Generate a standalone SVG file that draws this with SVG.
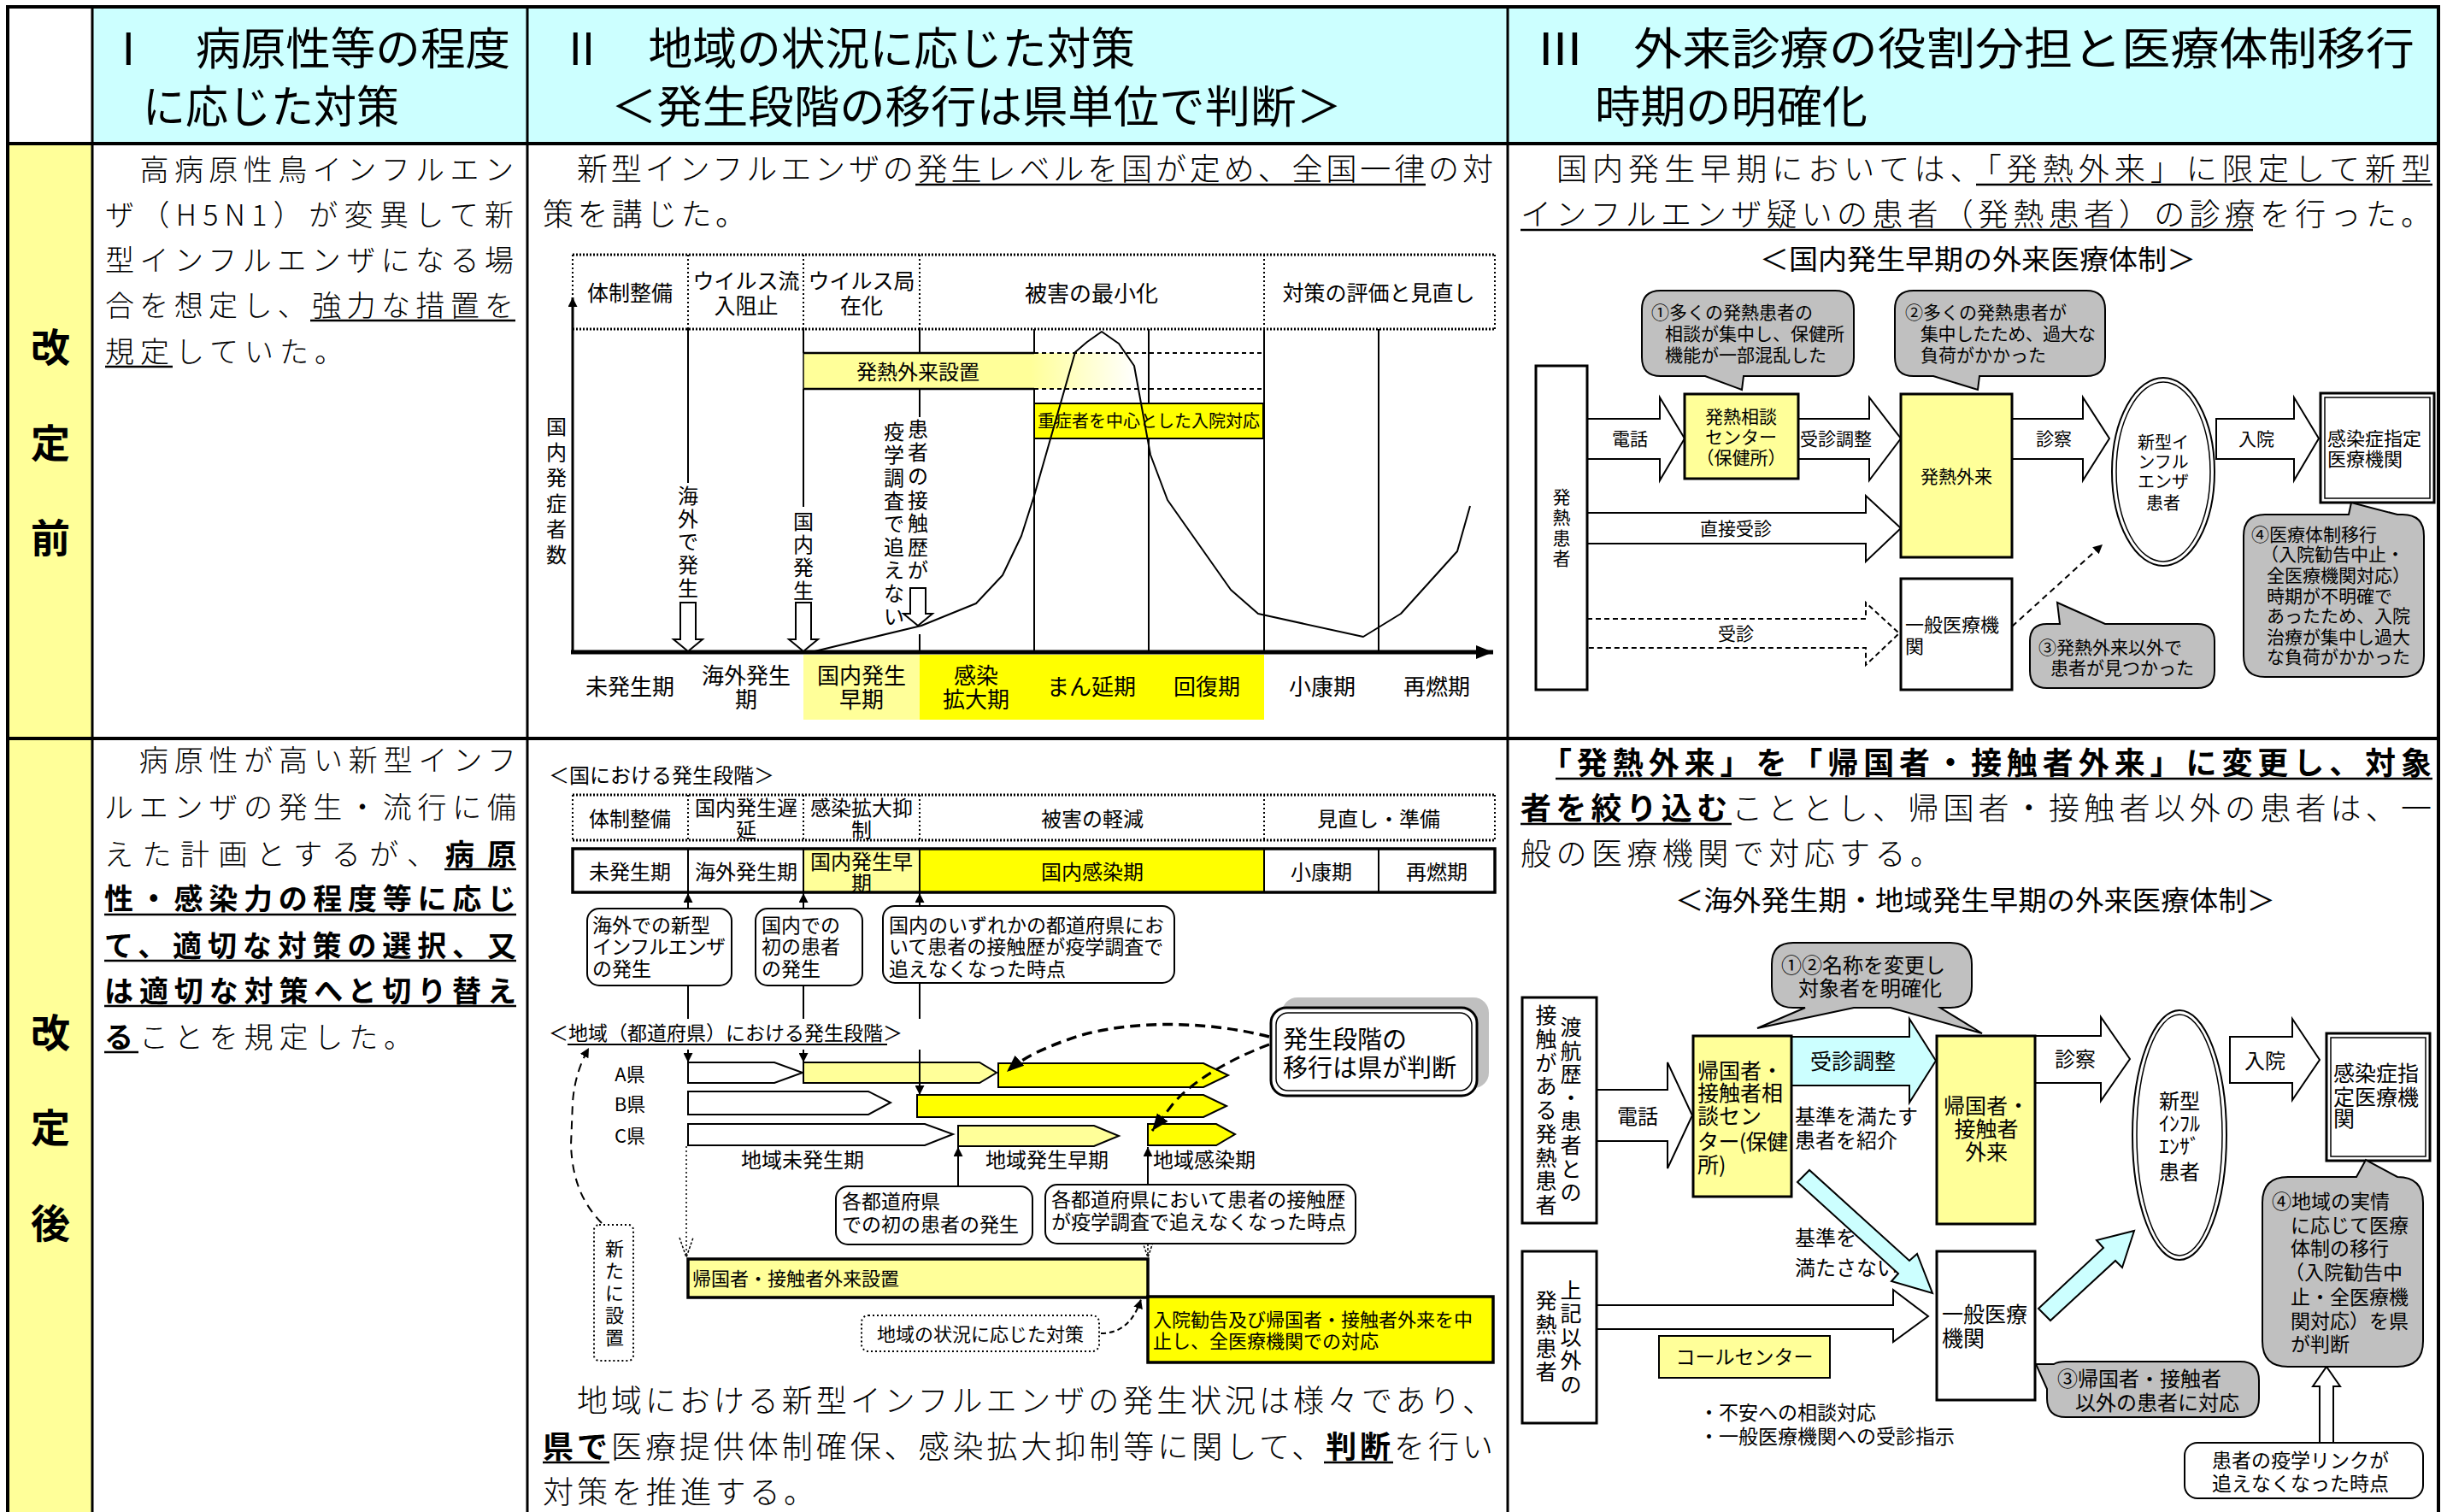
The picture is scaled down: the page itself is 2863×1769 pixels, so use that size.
<svg xmlns="http://www.w3.org/2000/svg" width="2863" height="1769" viewBox="0 0 2863 1769">
<defs>
<style>
text{font-family:"Noto Sans CJK JP","Noto Sans",sans-serif;dominant-baseline:central;fill:#000}
.c{text-anchor:middle}
.hd{font-size:52px}
.bt{font-size:36px;font-weight:300}
.bs{font-size:34px;font-weight:300}
.b{font-weight:700}
.k{font-size:46px;font-weight:700}
.f20{font-size:20px}.f21{font-size:21px}.f22{font-size:22px}.f23{font-size:23px}.f24{font-size:24px}.f25{font-size:25px}.f26{font-size:26px}.f29{font-size:29px}.f32{font-size:32px}
.ln{stroke:#000;fill:none;stroke-width:2}
.ar{stroke:#000;stroke-width:2;fill:#fff}
.bx{stroke:#000;stroke-width:3;fill:#fff}
.rb{stroke:#000;stroke-width:2;fill:#fff}
.ly{fill:#FFFF99}
.yy{fill:#FFFF00}
.cy{fill:#CCFFFF}
.bub{fill:#C0C0C0;stroke:#000;stroke-width:2}
.dot{stroke:#000;fill:none;stroke-width:2;stroke-dasharray:2 3}
.dsh{stroke:#000;fill:none;stroke-width:2;stroke-dasharray:8 6}
.ul{stroke:#000;stroke-width:2.5}
</style>
<linearGradient id="gr" x1="940" y1="0" x2="1330" y2="0" gradientUnits="userSpaceOnUse">
<stop offset="0.68" stop-color="#FFFF99"/><stop offset="1" stop-color="#FFFFFF"/>
</linearGradient>
<marker id="ah" viewBox="0 0 10 10" refX="10" refY="5" markerWidth="11" markerHeight="11" markerUnits="userSpaceOnUse" orient="auto"><path d="M0,0 L10,5 L0,10 Z" fill="#000"/></marker>
<marker id="ahb" viewBox="0 0 10 10" refX="10" refY="5" markerWidth="20" markerHeight="20" markerUnits="userSpaceOnUse" orient="auto"><path d="M0,1 L10,5 L0,9 Z" fill="#000"/></marker>
</defs>
<rect width="2863" height="1769" fill="#fff"/>

<!-- table -->
<g id="table">
<rect x="108" y="8" width="2745" height="160" fill="#CCFFFF"/>
<rect x="9" y="168" width="99" height="1601" fill="#FFFF99"/>
<g stroke="#000">
<line x1="7" y1="8" x2="2855" y2="8" stroke-width="4"/>
<line x1="7" y1="168" x2="2855" y2="168" stroke-width="4"/>
<line x1="7" y1="864" x2="2855" y2="864" stroke-width="4"/>
<line x1="9" y1="6" x2="9" y2="1769" stroke-width="4"/>
<line x1="108" y1="8" x2="108" y2="1769" stroke-width="3"/>
<line x1="617" y1="8" x2="617" y2="1769" stroke-width="3"/>
<line x1="1764" y1="8" x2="1764" y2="1769" stroke-width="3"/>
<line x1="2853" y1="6" x2="2853" y2="1769" stroke-width="4"/>
</g>
</g>

<g id="headers">
<text class="hd" x="124" y="53" textLength="473" lengthAdjust="spacingAndGlyphs">Ⅰ　病原性等の程度</text>
<text class="hd" x="167" y="121" textLength="300" lengthAdjust="spacingAndGlyphs">に応じた対策</text>
<text class="hd" x="655" y="53" textLength="673" lengthAdjust="spacingAndGlyphs">Ⅱ　地域の状況に応じた対策</text>
<text class="hd" x="715" y="121" textLength="855" lengthAdjust="spacingAndGlyphs">＜発生段階の移行は県単位で判断＞</text>
<text class="hd" x="1797" y="53" textLength="1028" lengthAdjust="spacingAndGlyphs">Ⅲ　外来診療の役割分担と医療体制移行</text>
<text class="hd" x="1866" y="121" textLength="319" lengthAdjust="spacingAndGlyphs">時期の明確化</text>
</g>

<g id="rowlabels">
<text class="k c"><tspan x="59" y="403">改</tspan><tspan x="59" y="515">定</tspan><tspan x="59" y="626">前</tspan></text>
<text class="k c"><tspan x="59" y="1205">改</tspan><tspan x="59" y="1316">定</tspan><tspan x="59" y="1428">後</tspan></text>
</g>

<!-- Column I text -->
<g id="col1-before">
<text class="bs" x="123" y="196" textLength="478">　高病原性鳥インフルエン</text>
<text class="bs" x="123" y="249" textLength="478">ザ（H5N1）が変異して新</text>
<text class="bs" x="123" y="302" textLength="478">型インフルエンザになる場</text>
<text class="bs" x="123" y="355" textLength="478">合を想定し、強力な措置を</text>
<text class="bs" x="123" y="409" textLength="279">規定していた。</text>
<line class="ul" x1="363" y1="375" x2="603" y2="375"/>
<line class="ul" x1="123" y1="429" x2="202" y2="429"/>
</g>
<g id="col1-after">
<text class="bs" x="122" y="887" textLength="482">　病原性が高い新型インフ</text>
<text class="bs" x="122" y="942" textLength="482">ルエンザの発生・流行に備</text>
<text class="bs" x="122" y="997" textLength="388">えた計画とするが、</text>
<text class="bs b" x="521" y="997" textLength="83">病原</text>
<text class="bs b" x="122" y="1049" textLength="482">性・感染力の程度等に応じ</text>
<text class="bs b" x="122" y="1104" textLength="482">て、適切な対策の選択、又</text>
<text class="bs b" x="122" y="1157" textLength="482">は適切な対策へと切り替え</text>
<text class="bs" x="122" y="1211" textLength="361"><tspan class="b">る</tspan>ことを規定した。</text>
<line class="ul" x1="520" y1="1017" x2="604" y2="1017"/>
<line class="ul" x1="122" y1="1070" x2="604" y2="1070"/>
<line class="ul" x1="122" y1="1124" x2="604" y2="1124"/>
<line class="ul" x1="122" y1="1177" x2="604" y2="1177"/>
<line class="ul" x1="122" y1="1231" x2="162" y2="1231"/>
</g>

<!-- Column II before -->
<g id="col2-before-text">
<text class="bt" x="635" y="195" textLength="1112">　新型インフルエンザの発生レベルを国が定め、全国一律の対</text>
<text class="bt" x="635" y="248" textLength="238">策を講じた。</text>
<line class="ul" x1="1071" y1="216" x2="1668" y2="216"/>
</g>

<g id="chart-header">
<line x1="670" y1="298" x2="1749" y2="298" stroke="#000" stroke-width="3" stroke-dasharray="2 2"/>
<line x1="670" y1="385" x2="1749" y2="385" stroke="#000" stroke-width="3" stroke-dasharray="2 2"/>
<g class="dot">
<line x1="670" y1="298" x2="670" y2="385"/><line x1="805" y1="298" x2="805" y2="385"/><line x1="940" y1="298" x2="940" y2="385"/><line x1="1076" y1="298" x2="1076" y2="385"/><line x1="1479" y1="298" x2="1479" y2="385"/><line x1="1749" y1="298" x2="1749" y2="385"/>
</g>
<text class="f25 c" x="737" y="341">体制整備</text>
<text class="f25 c" x="873" y="327">ウイルス流</text>
<text class="f25 c" x="873" y="356">入阻止</text>
<text class="f25 c" x="1008" y="327">ウイルス局</text>
<text class="f25 c" x="1008" y="356">在化</text>
<text class="f26 c" x="1277" y="341">被害の最小化</text>
<text class="f25 c" x="1613" y="341">対策の評価と見直し</text>
</g>

<g id="chart-grid" class="ln" stroke-width="1.5">
<line x1="805" y1="385" x2="805" y2="565"/>
<line x1="940" y1="385" x2="940" y2="413"/><line x1="940" y1="455" x2="940" y2="593"/>
<line x1="1076" y1="385" x2="1076" y2="413"/><line x1="1076" y1="455" x2="1076" y2="488"/><line x1="1076" y1="742" x2="1076" y2="763"/>
<line x1="1210" y1="385" x2="1210" y2="763"/>
<line x1="1344" y1="385" x2="1344" y2="763"/>
<line x1="1479" y1="385" x2="1479" y2="763"/>
<line x1="1613" y1="385" x2="1613" y2="763"/>
</g>

<g id="bg-phase">
<rect x="940" y="766" width="136" height="76" fill="#FFFF99"/>
<rect x="1076" y="766" width="403" height="76" fill="#FFFF00"/>
</g>

<g id="fever-clinic-bar">
<rect x="940" y="413" width="390" height="42" fill="url(#gr)"/>
<line x1="940" y1="413" x2="1210" y2="413" stroke="#000" stroke-width="2.5"/>
<line x1="940" y1="455" x2="1210" y2="455" stroke="#000" stroke-width="2.5"/>
<line x1="940" y1="413" x2="940" y2="455" stroke="#000" stroke-width="1.5"/>
<line x1="1210" y1="413" x2="1479" y2="413" stroke="#000" stroke-width="2" stroke-dasharray="5 4"/>
<line x1="1210" y1="455" x2="1479" y2="455" stroke="#000" stroke-width="2" stroke-dasharray="5 4"/>
<text class="f24 c" x="1074" y="433">発熱外来設置</text>
</g>
<g id="severe-bar">
<rect x="1210" y="472" width="268" height="41" fill="#FFFF00" stroke="#000" stroke-width="2"/>
<text class="f20 c" x="1344" y="491">重症者を中心とした入院対応</text>
</g>

<g id="chart-axes">
<line x1="670" y1="764" x2="670" y2="348" stroke="#000" stroke-width="3" marker-end="url(#ah)"/>
<line x1="668" y1="763" x2="1747" y2="763" stroke="#000" stroke-width="5" marker-end="url(#ahb)"/>
<text class="f24 c"><tspan x="651" y="497">国</tspan><tspan x="651" y="527">内</tspan><tspan x="651" y="557">発</tspan><tspan x="651" y="587">症</tspan><tspan x="651" y="617">者</tspan><tspan x="651" y="647">数</tspan></text>
</g>

<g id="chart-curve">
<polyline fill="none" stroke="#000" stroke-width="2" stroke-linejoin="round" points="953,762 1078,732 1142,706 1173,673 1195,627 1210,580 1258,412 1272,400 1289,388 1309,402 1327,428 1346,532 1366,585 1440,690 1472,718 1595,745 1639,718 1705,645 1720,592"/>
</g>

<g id="chart-events">
<text class="f24 c"><tspan x="805" y="578">海</tspan><tspan x="805" y="605">外</tspan><tspan x="805" y="632">で</tspan><tspan x="805" y="659">発</tspan><tspan x="805" y="686">生</tspan></text>
<text class="f24 c"><tspan x="940" y="608">国</tspan><tspan x="940" y="635">内</tspan><tspan x="940" y="662">発</tspan><tspan x="940" y="689">生</tspan></text>
<text class="f24 c"><tspan x="1074" y="500">患</tspan><tspan x="1074" y="527">者</tspan><tspan x="1074" y="555">の</tspan><tspan x="1074" y="583">接</tspan><tspan x="1074" y="610">触</tspan><tspan x="1074" y="638">歴</tspan><tspan x="1074" y="665">が</tspan></text>
<text class="f24 c"><tspan x="1046" y="503">疫</tspan><tspan x="1046" y="530">学</tspan><tspan x="1046" y="557">調</tspan><tspan x="1046" y="584">査</tspan><tspan x="1046" y="611">で</tspan><tspan x="1046" y="638">追</tspan><tspan x="1046" y="665">え</tspan><tspan x="1046" y="692">な</tspan><tspan x="1046" y="719">い</tspan></text>
<polygon class="ar" points="796,705 814,705 814,748 822,748 805,762 788,748 796,748"/>
<polygon class="ar" points="931,705 949,705 949,748 957,748 940,762 923,748 931,748"/>
<polygon class="ar" points="1065,688 1083,688 1083,718 1091,718 1074,732 1057,718 1065,718"/>
</g>

<g id="chart-phases">
<text class="f26 c" x="737" y="801">未発生期</text>
<text class="f26 c" x="873" y="788">海外発生</text><text class="f26 c" x="873" y="816">期</text>
<text class="f26 c" x="1008" y="788">国内発生</text><text class="f26 c" x="1008" y="816">早期</text>
<text class="f26 c" x="1142" y="788">感染</text><text class="f26 c" x="1142" y="816">拡大期</text>
<text class="f26 c" x="1277" y="801">まん延期</text>
<text class="f26 c" x="1412" y="801">回復期</text>
<text class="f26 c" x="1547" y="801">小康期</text>
<text class="f26 c" x="1681" y="801">再燃期</text>
</g>

<!-- Column III before -->
<g id="col3-before-text">
<text class="bt" x="1779" y="195" textLength="1066">　国内発生早期においては、「発熱外来」に限定して新型</text>
<text class="bt" x="1779" y="248" textLength="1066">インフルエンザ疑いの患者（発熱患者）の診療を行った。</text>
<line class="ul" x1="2312" y1="216" x2="2846" y2="216"/>
<line class="ul" x1="1779" y1="269" x2="2636" y2="269"/>
<text class="f32" x="2059" y="301" textLength="510" lengthAdjust="spacingAndGlyphs">＜国内発生早期の外来医療体制＞</text>
</g>

<g id="connectors-before">
<polygon class="ar" points="1857,490 1942,490 1942,465 1971,513 1942,562 1942,537 1857,537"/>
<polygon class="ar" points="2104,490 2187,490 2187,465 2224,513 2187,562 2187,537 2104,537"/>
<polygon class="ar" points="2354,490 2437,490 2437,465 2468,513 2437,562 2437,537 2354,537"/>
<polygon class="ar" points="2593,490 2684,490 2684,465 2713,513 2684,562 2684,537 2593,537"/>
<polygon class="ar" points="1857,600 2183,600 2183,580 2224,618 2183,657 2183,636 1857,636"/>
<polygon class="ar" stroke-dasharray="6 4" points="1857,724 2183,724 2183,705 2222,741 2183,778 2183,758 1857,758"/>
<line x1="2354" y1="733" x2="2460" y2="637" stroke="#000" stroke-width="2" stroke-dasharray="7 5" marker-end="url(#ah)"/>
<text class="f21 c" x="1907" y="512">電話</text>
<text class="f21 c" x="2148" y="512">受診調整</text>
<text class="f21 c" x="2403" y="512">診察</text>
<text class="f21 c" x="2640" y="512">入院</text>
<text class="f21 c" x="2031" y="617">直接受診</text>
<text class="f21 c" x="2031" y="740">受診</text>
</g>

<g id="n-fever-patient">
<rect class="bx" x="1797" y="428" width="60" height="379"/>
<text class="f21 c"><tspan x="1827" y="580">発</tspan><tspan x="1827" y="604">熱</tspan><tspan x="1827" y="628">患</tspan><tspan x="1827" y="652">者</tspan></text>
</g>
<g id="n-fever-consult">
<rect class="bx ly" x="1971" y="461" width="133" height="99"/>
<text class="f21 c" x="2037" y="486">発熱相談</text>
<text class="f21 c" x="2037" y="510">センター</text>
<text class="f21 c" x="2037" y="534">（保健所）</text>
</g>
<g id="n-fever-clinic">
<rect class="bx ly" x="2224" y="461" width="130" height="191"/>
<text class="f21 c" x="2289" y="556">発熱外来</text>
</g>
<g id="n-general1">
<rect class="bx" x="2224" y="677" width="130" height="130"/>
<text class="f22" x="2229" y="729">一般医療機</text>
<text class="f22" x="2229" y="754">関</text>
</g>
<g id="n-patient1">
<ellipse cx="2531" cy="552" rx="60" ry="110" fill="#fff" stroke="#000" stroke-width="2"/>
<ellipse cx="2531" cy="552" rx="55" ry="105" fill="none" stroke="#000" stroke-width="1.5"/>
<text class="f20 c" x="2531" y="516">新型イ</text>
<text class="f20 c" x="2531" y="539">ンフル</text>
<text class="f20 c" x="2531" y="562">エンザ</text>
<text class="f20 c" x="2531" y="587">患者</text>
</g>
<g id="n-designated1">
<rect x="2715" y="460" width="133" height="128" fill="#fff" stroke="#000" stroke-width="3"/>
<rect x="2720" y="465" width="123" height="118" fill="none" stroke="#000" stroke-width="1.5"/>
<text class="f22" x="2723" y="511">感染症指定</text>
<text class="f22" x="2723" y="535">医療機関</text>
</g>
<g id="n-bubble1">
<path class="bub" d="M1943,340 H2147 Q2169,340 2169,362 V418 Q2169,440 2147,440 H2040 L2038,456 L1995,440 H1943 Q1921,440 1921,418 V362 Q1921,340 1943,340 Z"/>
<text class="f21" x="1932" y="364">①多くの発熱患者の</text>
<text class="f21" x="1948" y="389">相談が集中し、保健所</text>
<text class="f21" x="1948" y="414">機能が一部混乱した</text>
</g>
<g id="n-bubble2">
<path class="bub" d="M2239,340 H2441 Q2463,340 2463,362 V418 Q2463,440 2441,440 H2316 L2314,456 L2262,440 H2239 Q2217,440 2217,418 V362 Q2217,340 2239,340 Z"/>
<text class="f21" x="2229" y="364">②多くの発熱患者が</text>
<text class="f21" x="2247" y="389" textLength="205">集中したため、過大な</text>
<text class="f21" x="2247" y="414">負荷がかかった</text>
</g>
<g id="n-bubble3">
<path class="bub" d="M2395,730 H2410 L2407,705 L2463,730 H2571 Q2591,730 2591,750 V785 Q2591,805 2571,805 H2395 Q2375,805 2375,785 V750 Q2375,730 2395,730 Z"/>
<text class="f21" x="2385" y="756">③発熱外来以外で</text>
<text class="f21" x="2399" y="780">患者が見つかった</text>
</g>
<g id="n-bubble4">
<path class="bub" d="M2650,602 H2748 L2751,588 L2805,602 H2811 Q2836,602 2836,627 V767 Q2836,792 2811,792 H2650 Q2625,792 2625,767 V627 Q2625,602 2650,602 Z"/>
<text class="f21" x="2634" y="624">④医療体制移行</text>
<text class="f21" x="2645" y="647">（入院勧告中止・</text>
<text class="f21" x="2652" y="672">全医療機関対応）</text>
<text class="f21" x="2652" y="696">時期が不明確で</text>
<text class="f21" x="2652" y="719">あったため、入院</text>
<text class="f21" x="2652" y="744">治療が集中し過大</text>
<text class="f21" x="2652" y="767">な負荷がかかった</text>
</g>

<!-- Column II after -->
<g id="col2-after-stages">
<text class="f24" x="642" y="905">＜国における発生段階＞</text>
<line x1="670" y1="930" x2="1749" y2="930" stroke="#000" stroke-width="3" stroke-dasharray="2 2"/>
<line x1="670" y1="983" x2="1749" y2="983" stroke="#000" stroke-width="3" stroke-dasharray="2 2"/>
<g class="dot">
<line x1="670" y1="930" x2="670" y2="983"/><line x1="805" y1="930" x2="805" y2="983"/><line x1="940" y1="930" x2="940" y2="983"/><line x1="1076" y1="930" x2="1076" y2="983"/><line x1="1479" y1="930" x2="1479" y2="983"/><line x1="1749" y1="930" x2="1749" y2="983"/>
</g>
<text class="f24 c" x="737" y="956">体制整備</text>
<text class="f24 c" x="873" y="943">国内発生遅</text><text class="f24 c" x="873" y="969">延</text>
<text class="f24 c" x="1008" y="943">感染拡大抑</text><text class="f24 c" x="1008" y="969">制</text>
<text class="f24 c" x="1278" y="956">被害の軽減</text>
<text class="f24 c" x="1613" y="956">見直し・準備</text>
<rect x="940" y="993" width="136" height="51" fill="#FFFF99"/>
<rect x="1076" y="993" width="403" height="51" fill="#FFFF00"/>
<rect x="670" y="993" width="1079" height="51" fill="none" stroke="#000" stroke-width="3.5"/>
<g class="ln"><line x1="805" y1="993" x2="805" y2="1044"/><line x1="940" y1="993" x2="940" y2="1044"/><line x1="1076" y1="993" x2="1076" y2="1044"/><line x1="1479" y1="993" x2="1479" y2="1044"/><line x1="1613" y1="993" x2="1613" y2="1044"/></g>
<text class="f24 c" x="737" y="1018">未発生期</text>
<text class="f24 c" x="873" y="1018">海外発生期</text>
<text class="f24 c" x="1008" y="1006">国内発生早</text><text class="f24 c" x="1008" y="1031">期</text>
<text class="f24 c" x="1278" y="1018">国内感染期</text>
<text class="f24 c" x="1546" y="1018">小康期</text>
<text class="f24 c" x="1681" y="1018">再燃期</text>
</g>

<g id="connectors-after-mid">
<line class="ln" stroke-width="1.5" x1="805" y1="1063" x2="805" y2="1045" marker-end="url(#ah)"/>
<line class="ln" stroke-width="1.5" x1="940" y1="1063" x2="940" y2="1045" marker-end="url(#ah)"/>
<line class="ln" stroke-width="1.5" x1="1076" y1="1060" x2="1076" y2="1045" marker-end="url(#ah)"/>
<line class="ln" stroke-width="1.5" x1="805" y1="1153" x2="805" y2="1192"/>
<line class="ln" stroke-width="1.5" x1="940" y1="1153" x2="940" y2="1192"/>
<line class="ln" stroke-width="1.5" x1="1076" y1="1150" x2="1076" y2="1192"/>
</g>

<g id="n-ev-overseas"><rect class="rb" x="687" y="1063" width="169" height="90" rx="14"/>
<text class="f23" x="693" y="1081">海外での新型</text><text class="f23" x="693" y="1106" textLength="156">インフルエンザ</text><text class="f23" x="693" y="1132">の発生</text></g>
<g id="n-ev-domestic"><rect class="rb" x="884" y="1063" width="125" height="90" rx="14"/>
<text class="f23" x="891" y="1081">国内での</text><text class="f23" x="891" y="1106">初の患者</text><text class="f23" x="891" y="1132">の発生</text></g>
<g id="n-ev-untraceable"><rect class="rb" x="1033" y="1060" width="341" height="90" rx="14"/>
<text class="f23" x="1040" y="1081">国内のいずれかの都道府県にお</text><text class="f23" x="1040" y="1106">いて患者の接触歴が疫学調査で</text><text class="f23" x="1040" y="1132">追えなくなった時点</text></g>

<g id="region-label">
<text class="f23" x="642" y="1207">＜地域（都道府県）における発生段階＞</text>
<line x1="664" y1="1222" x2="1038" y2="1222" stroke="#000" stroke-width="2"/>
</g>

<g id="region-bars">
<text class="f22 c" x="737" y="1255">A県</text>
<text class="f22 c" x="737" y="1290">B県</text>
<text class="f22 c" x="737" y="1327">C県</text>
<polygon class="ar" points="805,1243 906,1243 939,1255 906,1267 805,1267"/>
<polygon class="ar ly" points="940,1243 1146,1243 1166,1255 1146,1267 940,1267"/>
<polygon class="ar yy" points="1168,1244 1408,1244 1437,1258 1408,1272 1168,1272"/>
<polygon class="ar" points="805,1277 1016,1277 1042,1290 1016,1304 805,1304"/>
<polygon class="ar yy" points="1073,1281 1408,1281 1435,1294 1408,1307 1073,1307"/>
<polygon class="ar" points="805,1315 1082,1315 1115,1327 1082,1340 805,1340"/>
<polygon class="ar ly" points="1121,1317 1280,1317 1309,1329 1280,1341 1121,1341"/>
<polygon class="ar yy" points="1343,1315 1423,1315 1445,1327 1423,1340 1343,1340"/>
<text class="f24 c" x="939" y="1355">地域未発生期</text>
<text class="f24 c" x="1225" y="1355">地域発生早期</text>
<text class="f24" x="1349" y="1355">地域感染期</text>
</g>

<g id="connectors-after-region">
<line class="ln" stroke-width="1.5" x1="805" y1="1228" x2="805" y2="1243" marker-end="url(#ah)"/>
<line class="ln" stroke-width="1.5" x1="940" y1="1228" x2="940" y2="1243" marker-end="url(#ah)"/>
<line class="ln" stroke-width="1.5" x1="1076" y1="1228" x2="1076" y2="1281" marker-end="url(#ah)"/>
<line class="ln" stroke-width="1.5" x1="1121" y1="1388" x2="1121" y2="1342" marker-end="url(#ah)"/>
<line class="ln" stroke-width="1.5" x1="1343" y1="1386" x2="1343" y2="1342" marker-end="url(#ah)"/>
<line x1="803" y1="1341" x2="803" y2="1470" stroke="#000" stroke-width="1.5" stroke-dasharray="2 3"/>
<polyline points="795,1448 803,1471 811,1448" fill="none" stroke="#000" stroke-width="1.5" stroke-dasharray="3 2"/>
<line x1="1343" y1="1455" x2="1343" y2="1470" stroke="#000" stroke-width="1.5" stroke-dasharray="3 2"/>
<polyline points="1335,1448 1343,1471 1351,1448" fill="none" stroke="#000" stroke-width="1.5" stroke-dasharray="3 2"/>
<path d="M704,1431 C684,1410 670,1385 668,1340 L670,1290 C672,1262 680,1242 689,1226" fill="none" stroke="#000" stroke-width="2" stroke-dasharray="10 7" marker-end="url(#ah)"/>
<path d="M1485,1213 C1420,1196 1330,1192 1262,1212 C1220,1226 1196,1238 1178,1254" fill="none" stroke="#000" stroke-width="3.5" stroke-dasharray="12 7" marker-end="url(#ahb)"/>
<path d="M1485,1222 C1432,1242 1392,1268 1372,1292 L1348,1323" fill="none" stroke="#000" stroke-width="3" stroke-dasharray="12 7" marker-end="url(#ahb)"/>
<path d="M1288,1560 C1310,1560 1326,1548 1335,1520" fill="none" stroke="#000" stroke-width="2" stroke-dasharray="6 4" marker-end="url(#ah)"/>
</g>

<g id="n-judge">
<rect x="1500" y="1167" width="242" height="106" rx="18" fill="#C0C0C0"/>
<rect x="1487" y="1179" width="241" height="103" rx="18" fill="#fff" stroke="#000" stroke-width="3"/>
<rect x="1493" y="1185" width="229" height="91" rx="14" fill="none" stroke="#000" stroke-width="1.5"/>
<text class="f29" x="1501" y="1214">発生段階の</text>
<text class="f29" x="1501" y="1247">移行は県が判断</text>
</g>

<g id="n-ev-pref-first"><rect class="rb" x="978" y="1388" width="230" height="68" rx="14"/>
<text class="f23" x="985" y="1404">各都道府県</text><text class="f23" x="985" y="1431">での初の患者の発生</text></g>
<g id="n-ev-pref-untraceable"><rect class="rb" x="1223" y="1386" width="363" height="69" rx="14"/>
<text class="f23" x="1230" y="1402">各都道府県において患者の接触歴</text><text class="f23" x="1230" y="1428">が疫学調査で追えなくなった時点</text></g>

<g id="n-new">
<rect x="695" y="1433" width="46" height="159" rx="6" fill="#fff" stroke="#000" stroke-width="2" stroke-dasharray="2 3"/>
<text class="f22 c"><tspan x="719" y="1459">新</tspan><tspan x="719" y="1485">た</tspan><tspan x="719" y="1511">に</tspan><tspan x="719" y="1537">設</tspan><tspan x="719" y="1563">置</tspan></text>
</g>
<g id="n-returnee-setup">
<rect x="805" y="1473" width="538" height="45" fill="#FFFF99" stroke="#000" stroke-width="3.5"/>
<text class="f22" x="810" y="1494">帰国者・接触者外来設置</text>
</g>
<g id="n-stop">
<rect x="1343" y="1517" width="404" height="77" fill="#FFFF00" stroke="#000" stroke-width="3.5"/>
<text class="f22" x="1349" y="1542">入院勧告及び帰国者・接触者外来を中</text>
<text class="f22" x="1349" y="1567">止し、全医療機関での対応</text>
</g>
<g id="n-local">
<rect x="1008" y="1539" width="278" height="42" rx="8" fill="#fff" stroke="#000" stroke-width="2" stroke-dasharray="2 3"/>
<text class="f22 c" x="1147" y="1559">地域の状況に応じた対策</text>
</g>

<g id="col2-after-text">
<text class="bt" x="635" y="1636" textLength="1112">　地域における新型インフルエンザの発生状況は様々であり、</text>
<text class="bt" x="635" y="1690" textLength="1112"><tspan class="b">県で</tspan>医療提供体制確保、感染拡大抑制等に関して、<tspan class="b">判断</tspan>を行い</text>
<text class="bt" x="635" y="1743" textLength="318">対策を推進する。</text>
<line class="ul" x1="635" y1="1711" x2="713" y2="1711"/>
<line class="ul" x1="1549" y1="1711" x2="1630" y2="1711"/>
</g>

<!-- Column III after -->
<g id="col3-after-text">
<text class="bt" x="1779" y="890" textLength="1066">　<tspan class="b">「発熱外来」を「帰国者・接触者外来」に変更し、対象</tspan></text>
<text class="bt" x="1779" y="943" textLength="1066"><tspan class="b">者を絞り込む</tspan>こととし、帰国者・接触者以外の患者は、一</text>
<text class="bt" x="1779" y="996" textLength="492">般の医療機関で対応する。</text>
<line class="ul" x1="1820" y1="911" x2="2846" y2="911"/>
<line class="ul" x1="1779" y1="964" x2="2026" y2="964"/>
<text class="f32" x="1960" y="1051" textLength="702" lengthAdjust="spacingAndGlyphs">＜海外発生期・地域発生早期の外来医療体制＞</text>
</g>

<g id="connectors-after">
<polygon class="ar" points="1868,1275 1951,1275 1951,1243 1980,1305 1951,1367 1951,1335 1868,1335"/>
<polygon class="ar cy" points="2096,1213 2234,1213 2234,1192 2265,1241 2234,1290 2234,1270 2096,1270"/>
<polygon class="ar" points="2381,1212 2458,1212 2458,1190 2492,1239 2458,1288 2458,1267 2381,1267"/>
<polygon class="ar" points="2609,1213 2682,1213 2682,1192 2714,1240 2682,1287 2682,1267 2609,1267"/>
<polygon class="ar" points="1868,1527 2215,1527 2215,1509 2256,1540 2215,1570 2215,1555 1868,1555"/>
<text class="f24 c" x="1916" y="1304">電話</text>
<text class="f25 c" x="2168" y="1240">受診調整</text>
<text class="f24 c" x="2428" y="1237">診察</text>
<text class="f24 c" x="2650" y="1239">入院</text>
<text class="f24" x="2100" y="1304">基準を満たす</text>
<text class="f24" x="2100" y="1332">患者を紹介</text>
<text class="f24" x="2100" y="1446">基準を</text>
<text class="f24" x="2100" y="1481">満たさない</text>
<polygon class="ar cy" points="2103,1383 2221,1490 2213,1499 2261,1513 2243,1467 2234,1475 2117,1369"/>
<polygon class="ar cy" points="2385,1531 2461,1460 2453,1451 2497,1440 2483,1483 2475,1475 2399,1545"/>
<polygon class="ar" points="2714,1688 2714,1622 2706,1622 2722,1599 2738,1622 2730,1622 2730,1688"/>
</g>

<g id="n-traveler">
<rect class="bx" x="1781" y="1167" width="87" height="264"/>
<text class="f25 c"><tspan x="1838" y="1200">渡</tspan><tspan x="1838" y="1228">航</tspan><tspan x="1838" y="1255">歴</tspan><tspan x="1838" y="1283">・</tspan><tspan x="1838" y="1310">患</tspan><tspan x="1838" y="1338">者</tspan><tspan x="1838" y="1366">と</tspan><tspan x="1838" y="1393">の</tspan></text>
<text class="f25 c"><tspan x="1809" y="1186">接</tspan><tspan x="1809" y="1214">触</tspan><tspan x="1809" y="1242">が</tspan><tspan x="1809" y="1269">あ</tspan><tspan x="1809" y="1297">る</tspan><tspan x="1809" y="1325">発</tspan><tspan x="1809" y="1353">熱</tspan><tspan x="1809" y="1380">患</tspan><tspan x="1809" y="1408">者</tspan></text>
</g>
<g id="n-others">
<rect class="bx" x="1781" y="1464" width="87" height="201"/>
<text class="f25 c"><tspan x="1838" y="1508">上</tspan><tspan x="1838" y="1535">記</tspan><tspan x="1838" y="1563">以</tspan><tspan x="1838" y="1590">外</tspan><tspan x="1838" y="1618">の</tspan></text>
<text class="f25 c"><tspan x="1809" y="1520">発</tspan><tspan x="1809" y="1548">熱</tspan><tspan x="1809" y="1576">患</tspan><tspan x="1809" y="1603">者</tspan></text>
</g>
<g id="n-consult2">
<rect class="bx ly" x="1981" y="1212" width="115" height="188"/>
<text class="f25" x="1986" y="1251">帰国者・</text>
<text class="f25" x="1986" y="1277">接触者相</text>
<text class="f25" x="1986" y="1304">談セン</text>
<text class="f25" x="1986" y="1334" textLength="106">ター(保健</text>
<text class="f25" x="1986" y="1361">所)</text>
</g>
<g id="n-returnee-clinic">
<rect class="bx ly" x="2266" y="1212" width="115" height="220"/>
<text class="f25 c" x="2324" y="1292">帰国者・</text>
<text class="f25 c" x="2324" y="1319">接触者</text>
<text class="f25 c" x="2324" y="1346">外来</text>
</g>
<g id="n-general2">
<rect class="bx" x="2266" y="1464" width="115" height="174"/>
<text class="f25" x="2272" y="1536">一般医療</text>
<text class="f25" x="2272" y="1564">機関</text>
</g>
<g id="n-patient2">
<ellipse cx="2550" cy="1328" rx="55" ry="146" fill="#fff" stroke="#000" stroke-width="2"/>
<ellipse cx="2550" cy="1328" rx="50" ry="141" fill="none" stroke="#000" stroke-width="1.5"/>
<text class="f24 c" x="2550" y="1286">新型</text>
<text class="f24 c" x="2550" y="1312">ｲﾝﾌﾙ</text>
<text class="f24 c" x="2550" y="1339">ｴﾝｻﾞ</text>
<text class="f24 c" x="2550" y="1369">患者</text>
</g>
<g id="n-designated2">
<rect x="2722" y="1209" width="121" height="149" fill="#fff" stroke="#000" stroke-width="3"/>
<rect x="2727" y="1214" width="111" height="139" fill="none" stroke="#000" stroke-width="1.5"/>
<text class="f25" x="2730" y="1254">感染症指</text>
<text class="f25" x="2730" y="1282">定医療機</text>
<text class="f25" x="2730" y="1307">関</text>
</g>
<g id="n-callcenter">
<rect x="1941" y="1563" width="200" height="49" fill="#FFFF99" stroke="#000" stroke-width="2"/>
<text class="f23 c" x="2041" y="1586">コールセンター</text>
<text class="f23" x="1988" y="1651">・不安への相談対応</text>
<text class="f23" x="1988" y="1679">・一般医療機関への受診指示</text>
</g>
<g id="n-bubble12">
<path class="bub" d="M2098,1103 H2282 Q2307,1103 2307,1128 V1154 Q2307,1179 2282,1179 H2270 L2319,1209 L2212,1179 H2169 L2056,1203 L2112,1179 H2098 Q2073,1179 2073,1154 V1128 Q2073,1103 2098,1103 Z"/>
<text class="f24" x="2084" y="1127">①②名称を変更し</text>
<text class="f24" x="2104" y="1154">対象者を明確化</text>
</g>
<g id="n-bubble3b">
<path class="bub" d="M2417,1593 H2621 Q2643,1593 2643,1615 V1636 Q2643,1658 2621,1658 H2417 Q2395,1658 2395,1636 V1625 L2382,1596 L2403,1596 Q2408,1593 2417,1593 Z"/>
<text class="f24" x="2407" y="1611">③帰国者・接触者</text>
<text class="f24" x="2428" y="1639">以外の患者に対応</text>
</g>
<g id="n-bubble4b">
<path class="bub" d="M2677,1377 H2757 L2768,1357 L2805,1377 Q2835,1377 2835,1407 V1569 Q2835,1599 2805,1599 H2677 Q2647,1599 2647,1569 V1407 Q2647,1377 2677,1377 Z"/>
<text class="f23" x="2658" y="1404">④地域の実情</text>
<text class="f23" x="2680" y="1432">に応じて医療</text>
<text class="f23" x="2680" y="1459">体制の移行</text>
<text class="f23" x="2673" y="1487">（入院勧告中</text>
<text class="f23" x="2680" y="1516">止・全医療機</text>
<text class="f23" x="2680" y="1544">関対応）を県</text>
<text class="f23" x="2680" y="1571">が判断</text>
</g>
<g id="n-link">
<rect class="rb" x="2556" y="1688" width="279" height="65" rx="15"/>
<text class="f23" x="2588" y="1707">患者の疫学リンクが</text>
<text class="f23" x="2588" y="1734">追えなくなった時点</text>
</g>
</svg>
